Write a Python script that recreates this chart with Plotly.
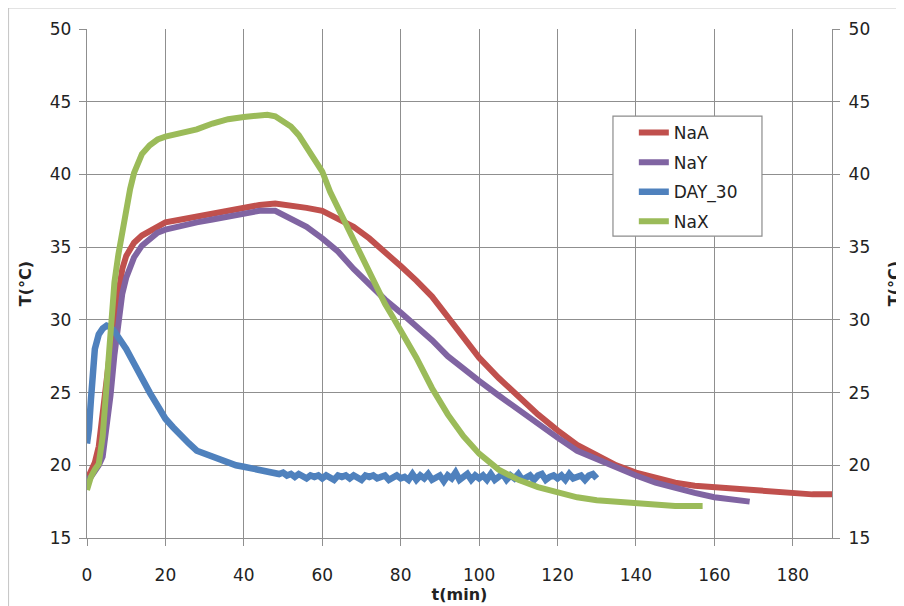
import plotly.graph_objects as go

# ---------------- data ----------------
naa_t = [0, 1, 2, 3, 4, 5, 6, 7, 8, 9, 10, 12, 14, 16, 18, 20, 24, 28, 32, 36, 40, 44, 48, 52,
         56, 60, 64, 68, 72, 76, 80, 84, 88, 92, 96, 100, 105, 110, 115, 120, 125, 130, 135,
         140, 145, 150, 155, 160, 165, 170, 175, 180, 185, 190]
naa_T = [19.0, 19.5, 20.2, 21.3, 23.8, 26.3, 28.1, 30.1, 32.0, 33.5, 34.4, 35.3, 35.8, 36.1,
         36.4, 36.7, 36.9, 37.1, 37.3, 37.6, 37.8, 37.9, 38.0, 37.9, 37.7, 37.5, 37.0, 36.4,
         35.6, 34.7, 33.7, 32.7, 31.6, 30.2, 28.8, 27.4, 26.0, 24.7, 23.5, 22.4, 21.4, 20.7,
         20.0, 19.5, 19.1, 18.8, 18.6, 18.5, 18.4, 18.2, 18.1, 18.1, 18.0, 18.0]

nay_t = [0, 1, 2, 3, 4, 5, 6, 7, 8, 9, 10, 12, 14, 16, 18, 20, 24, 28, 32, 36, 40, 44, 48, 52,
         56, 60, 64, 68, 72, 76, 80, 84, 88, 92, 96, 100, 105, 110, 115, 120, 125, 130, 135,
         140, 145, 150, 155, 160, 165, 169]
nay_T = [19.0, 19.2, 19.6, 20.0, 20.6, 22.5, 24.8, 27.6, 29.8, 31.8, 32.9, 34.3, 35.1, 35.6,
         36.0, 36.2, 36.5, 36.7, 36.9, 37.1, 37.3, 37.5, 37.5, 37.0, 36.4, 35.6, 34.7, 33.5,
         32.4, 31.4, 30.5, 29.6, 28.6, 27.5, 26.6, 25.8, 24.8, 23.8, 22.8, 21.9, 21.0, 20.4,
         19.8, 19.3, 18.8, 18.4, 18.1, 17.8, 17.6, 17.5]

day30_head_t = [0, 0.5, 1, 1.5, 2, 3, 4, 5, 6, 7, 8, 9, 10, 12, 14, 16, 18, 20, 22, 24, 26,
                28, 30, 32, 34, 36, 38, 40, 42, 44, 46]
day30_head_T = [21.5, 22.5, 24.5, 26.5, 28.0, 29.0, 29.4, 29.6, 29.5, 29.2, 28.8, 28.4, 28.0,
                27.0, 25.9, 25.0, 24.1, 23.2, 22.6, 22.0, 21.5, 21.0, 20.8, 20.5, 20.3, 20.2,
                20.0, 19.9, 19.8, 19.7, 19.6]
day30_tail_t = list(range(48, 131))
day30_tail_T = [19.5, 19.4, 19.5, 19.3, 19.4, 19.2, 19.4, 19.3, 19.1, 19.3, 19.2, 19.3, 19.1,
                19.3, 19.2, 19.0, 19.3, 19.2, 19.3, 19.1, 19.3, 19.2, 19.0, 19.3, 19.2, 19.3,
                19.1, 19.2, 19.3, 19.0, 19.2, 19.3, 19.1,
                19.2, 19.0, 19.4, 19.0, 19.3, 19.1, 19.4, 19.0, 19.2, 19.3, 18.9, 19.3, 19.1,
                19.5, 19.0, 19.2, 19.4, 19.0, 19.3, 19.1,
                19.3, 19.0, 19.4, 19.0, 19.2, 19.4, 19.0, 19.3, 19.1, 19.4, 19.0, 19.2, 19.3,
                19.0, 19.3, 19.4, 19.0, 19.2, 19.3, 19.1, 19.3, 19.0, 19.4, 19.1, 19.2, 19.3,
                19.0, 19.3, 19.4, 19.1]

nax_t = [0, 1, 2, 3, 4, 5, 6, 7, 8, 9, 10, 11, 12, 13, 14, 16, 18, 20, 24, 28, 32, 36, 40, 44,
         46, 48, 50, 52, 54, 56, 58, 60, 62, 64, 66, 68, 70, 72, 74, 76, 78, 80, 84, 88, 92, 96,
         100, 105, 110, 115, 120, 125, 130, 135, 140, 145, 150, 157]
nax_T = [18.3, 19.2, 19.7, 20.1, 22.0, 25.8, 29.8, 32.6, 34.5, 36.2, 37.6, 39.0, 40.1, 40.9,
         41.4, 42.0, 42.4, 42.6, 42.8, 43.1, 43.5, 43.8, 43.95, 44.0, 44.1, 44.0, 43.7, 43.3,
         42.7, 41.9, 41.1, 40.2, 38.8, 37.7, 36.6, 35.4, 34.3, 33.2, 32.2, 31.1, 30.2, 29.3,
         27.4, 25.3, 23.5, 22.0, 20.8, 19.7, 19.0, 18.5, 18.1, 17.8, 17.6, 17.5, 17.4, 17.3,
         17.2, 17.2]

series_names = ["NaA", "NaY", "DAY_30", "NaX"]
series_colors = ["#C0504D", "#8064A2", "#4F81BD", "#9BBB59"]

x_ticks = [0, 20, 40, 60, 80, 100, 120, 140, 160, 180]
y_ticks = [15, 20, 25, 30, 35, 40, 45, 50]

# ---------------- figure ----------------
FONT = "DejaVu Sans"
GRID = "#8f8f8f"

series = [
    (naa_t, naa_T),
    (nay_t, nay_T),
    (day30_head_t + day30_tail_t, day30_head_T + day30_tail_T),
    (nax_t, nax_T),
]

fig = go.Figure()
for (tx, ty), name, col in zip(series, series_names, series_colors):
    fig.add_trace(go.Scatter(
        x=tx, y=ty, name=name, mode="lines",
        line=dict(color=col, width=6.5 if name == "DAY_30" else 6),
        legendgroup=name,
        yaxis="y2" if name == "NaX" else "y",
    ))

axis_common = dict(
    showline=True, linecolor=GRID, linewidth=1.4,
    ticks="outside", ticklen=7, tickcolor=GRID, tickwidth=1.4,
    zeroline=False, automargin=False,
    tickfont=dict(family=FONT, size=17, color="#222"),
)

fig.update_layout(
    width=904, height=606,
    margin=dict(l=79, r=80, t=21, b=76),
    paper_bgcolor="white", plot_bgcolor="white",
    font=dict(family=FONT, size=16, color="#222"),
    showlegend=True,
    legend=dict(
        x=0.734, y=0.831, xanchor="left", yanchor="top",
        bgcolor="rgba(0,0,0,0)", borderwidth=0,
        font=dict(family=FONT, size=17, color="#222"),
        traceorder="grouped", tracegroupgap=4.5,
    ),
    xaxis=dict(
        range=[0, 190], tickvals=x_ticks,
        showgrid=True, gridcolor=GRID, gridwidth=1.4,
        ticklabelstandoff=14,
        title=dict(text="<b>t(min)</b>", font=dict(family=FONT, size=16), standoff=3),
        **axis_common,
    ),
    yaxis=dict(
        range=[15, 50], tickvals=y_ticks,
        showgrid=True, gridcolor=GRID, gridwidth=1.4,
        ticklabelstandoff=4,
        title=dict(text="<b>T(°C)</b>", font=dict(family=FONT, size=16), standoff=14),
        **axis_common,
    ),
    yaxis2=dict(
        range=[15, 50], tickvals=y_ticks, overlaying="y", side="right",
        showgrid=False,
        ticklabelstandoff=5,
        title=dict(text="<b>T(°C)</b>", font=dict(family=FONT, size=16), standoff=19),
        **axis_common,
    ),
    shapes=[
        # outer frame lines
        dict(type="line", xref="paper", yref="paper", x0=-0.1054, x1=1.2, y0=1.0413, y1=1.0413,
             line=dict(color="#c8c8c8", width=1.2), layer="below"),
        dict(type="line", xref="paper", yref="paper", x0=-0.1054, x1=-0.1054, y0=-0.2, y1=1.0413,
             line=dict(color="#c8c8c8", width=1.2), layer="below"),
        # legend box
        dict(type="rect", xref="paper", yref="paper", x0=0.706, x1=0.906, y0=0.593, y1=0.829,
             fillcolor="white", line=dict(color="#8c8c8c", width=1.2), layer="above"),
    ],
)

fig.write_html("out.html")
